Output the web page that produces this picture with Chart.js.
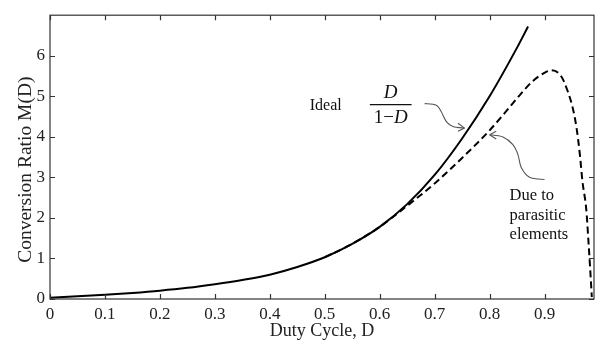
<!DOCTYPE html>
<html><head><meta charset="utf-8">
<script src="https://cdn.jsdelivr.net/npm/chart.js@4/dist/chart.umd.min.js"></script>
<style>html,body{margin:0;padding:0;background:#fff}#wrap{width:598px;height:340px}</style>
</head><body><div id="wrap"><canvas id="c" width="598" height="340"></canvas></div>
<script>
// ---- data ----
const dutyIdeal  = [0, 0.05, 0.1, 0.15, 0.2, 0.25, 0.3, 0.35, 0.4, 0.45, 0.5, 0.55, 0.6, 0.65, 0.7, 0.75, 0.8, 0.85, 0.87];
const ratioIdeal = [0.03, 0.065, 0.105, 0.15, 0.205, 0.275, 0.365, 0.47, 0.6, 0.79, 1.03, 1.36, 1.78, 2.34, 3.06, 3.96, 5.0, 6.2, 6.72];
const dutyParasitic  = [0.5, 0.55, 0.6, 0.65, 0.7, 0.75, 0.8, 0.827, 0.855, 0.879, 0.903, 0.912, 0.93, 0.942, 0.951, 0.958, 0.964, 0.969, 0.976, 0.98, 0.983, 0.986];
const ratioParasitic = [1.03, 1.36, 1.78, 2.3, 2.85, 3.48, 4.16, 4.58, 5.03, 5.38, 5.6, 5.64, 5.5, 5.13, 4.73, 4.24, 3.6, 2.9, 2.2, 1.4, 0.75, 0.05];
const xTickValues = [0, 0.1, 0.2, 0.3, 0.4, 0.5, 0.6, 0.7, 0.8, 0.9];
const yTickValues = [0, 1, 2, 3, 4, 5, 6];
const xTitle = 'Duty Cycle, D';
const yTitle = 'Conversion Ratio M(D)';
const xMin = 0, xMax = 0.99, yMin = 0, yMax = 7;

// annotation placement (data units)
const notes = {
  ideal: {x: 0.4727, y: 4.772, text: 'Ideal'},
  frac: {x: 0.62, yLine: 4.796, yNum: 5.09, yDen: 4.457, halfW: 0.038},
  idealArrow: [[0.6818,4.82],[0.7031,4.779],[0.7121,4.619],[0.7213,4.377],[0.7333,4.256],[0.7545,4.215]],
  idealHead: [[0.7424,4.336],[0.7424,4.135]],
  parArrow: [[0.9,2.948],[0.8727,3.003],[0.8576,3.246],[0.8515,3.568],[0.8424,3.81],[0.8242,3.997],[0.8,4.052]],
  parHead: [[0.8121,4.135],[0.8121,3.948]],
  parText: {x: 0.8364, lines: [['Due to',2.543],['parasitic',2.059],['elements',1.599]]},
  yTitle: {xPx: 25.5, y: 3.19}
};

const FONT = '"Liberation Serif", "Times New Roman", serif';
const pts = (xs, ys) => xs.map((x, i) => ({x, y: ys[i]}));

function smoothPath(ctx, p) {
  ctx.moveTo(p[0][0], p[0][1]);
  for (let i = 0; i < p.length - 1; i++) {
    const p0 = p[i-1] || p[i], p1 = p[i], p2 = p[i+1], p3 = p[i+2] || p2;
    const c1x = p1[0] + (p2[0]-p0[0])/6, c1y = p1[1] + (p2[1]-p0[1])/6;
    const c2x = p2[0] - (p3[0]-p1[0])/6, c2y = p2[1] - (p3[1]-p1[1])/6;
    ctx.bezierCurveTo(c1x, c1y, c2x, c2y, p2[0], p2[1]);
  }
}

const frame = {
  id: 'frame',
  afterDraw(chart) {
    const {ctx, chartArea: a, scales: {x, y}} = chart;
    ctx.save();
    ctx.strokeStyle = '#333';
    ctx.lineWidth = 1.2;
    ctx.strokeRect(a.left, a.top, a.right - a.left, a.bottom - a.top);
    const L = 5;
    ctx.beginPath();
    xTickValues.forEach(v => {
      const px = Math.round(x.getPixelForValue(v)) + 0.5;
      ctx.moveTo(px, a.bottom); ctx.lineTo(px, a.bottom - L);
      ctx.moveTo(px, a.top); ctx.lineTo(px, a.top + L);
    });
    yTickValues.forEach(v => {
      const py = Math.round(y.getPixelForValue(v)) + 0.5;
      ctx.moveTo(a.left, py); ctx.lineTo(a.left + L, py);
      ctx.moveTo(a.right, py); ctx.lineTo(a.right - L, py);
    });
    ctx.stroke();
    // y axis title
    ctx.translate(notes.yTitle.xPx, y.getPixelForValue(notes.yTitle.y));
    ctx.rotate(-Math.PI / 2);
    ctx.font = '19.5px ' + FONT;
    ctx.fillStyle = '#222';
    ctx.textAlign = 'center';
    ctx.textBaseline = 'middle';
    ctx.fillText(yTitle, 0, 0);
    ctx.restore();
  },
  afterDatasetsDraw(chart) {
    const {ctx, scales: {x, y}} = chart;
    const P = q => [x.getPixelForValue(q[0]), y.getPixelForValue(q[1])];
    ctx.save();
    ctx.fillStyle = '#111';
    ctx.textBaseline = 'middle';
    ctx.font = '16px ' + FONT;
    ctx.textAlign = 'left';
    ctx.fillText(notes.ideal.text, x.getPixelForValue(notes.ideal.x), y.getPixelForValue(notes.ideal.y));
    // fraction D / (1 - D)
    const fx = x.getPixelForValue(notes.frac.x);
    ctx.textAlign = 'center';
    ctx.font = 'italic 19px ' + FONT;
    ctx.fillText('D', fx, y.getPixelForValue(notes.frac.yNum));
    const ly = y.getPixelForValue(notes.frac.yLine);
    const hw = x.getPixelForValue(notes.frac.halfW) - x.getPixelForValue(0);
    ctx.strokeStyle = '#111'; ctx.lineWidth = 1.2;
    ctx.beginPath(); ctx.moveTo(fx - hw, ly); ctx.lineTo(fx + hw, ly); ctx.stroke();
    ctx.font = '19px ' + FONT;
    const a1 = '1\u2212';
    const w1 = ctx.measureText(a1).width;
    ctx.font = 'italic 19px ' + FONT;
    const w2 = ctx.measureText('D').width;
    const sx = fx - (w1 + w2) / 2, dy = y.getPixelForValue(notes.frac.yDen);
    ctx.textAlign = 'left';
    ctx.font = '19px ' + FONT;
    ctx.fillText(a1, sx, dy);
    ctx.font = 'italic 19px ' + FONT;
    ctx.fillText('D', sx + w1, dy);
    // arrows
    ctx.strokeStyle = '#555'; ctx.lineWidth = 1.1;
    [[notes.idealArrow, notes.idealHead, notes.idealArrow[notes.idealArrow.length-1]],
     [notes.parArrow, notes.parHead, notes.parArrow[notes.parArrow.length-1]]].forEach(([path, head, tip]) => {
      ctx.beginPath(); smoothPath(ctx, path.map(P)); ctx.stroke();
      const t = P(tip);
      ctx.beginPath();
      head.forEach(h => { const hp = P(h); ctx.moveTo(hp[0], hp[1]); ctx.lineTo(t[0], t[1]); });
      ctx.stroke();
    });
    // parasitic text
    ctx.font = '16.5px ' + FONT;
    ctx.textAlign = 'left';
    const tx = x.getPixelForValue(notes.parText.x);
    notes.parText.lines.forEach(([s, v]) => ctx.fillText(s, tx, y.getPixelForValue(v)));
    ctx.restore();
  }
};

new Chart(document.getElementById('c'), {
  type: 'line',
  data: {
    datasets: [
      {data: pts(dutyParasitic, ratioParasitic), borderColor: '#000', borderWidth: 2, borderDash: [7, 4],
       pointRadius: 0, cubicInterpolationMode: 'monotone', fill: false},
      {data: pts(dutyIdeal, ratioIdeal), borderColor: '#000', borderWidth: 2,
       pointRadius: 0, cubicInterpolationMode: 'monotone', fill: false}
    ]
  },
  options: {
    responsive: false, animation: false, devicePixelRatio: 1,
    layout: {padding: {top: 10, right: 4, left: 0, bottom: 0}},
    plugins: {legend: {display: false}, tooltip: {enabled: false}},
    scales: {
      x: {
        type: 'linear', min: xMin, max: xMax,
        afterBuildTicks: s => { s.ticks = xTickValues.map(v => ({value: v})); },
        afterFit: s => { s.height = 41; },
        grid: {display: false, drawTicks: false}, border: {display: false},
        ticks: {font: {family: FONT, size: 17}, color: '#222', padding: 5, maxRotation: 0, autoSkip: false,
                callback: v => String(v)},
        title: {display: true, text: xTitle, font: {family: FONT, size: 18, lineHeight: 1}, color: '#222',
                padding: {top: 0, bottom: 0}}
      },
      y: {
        type: 'linear', min: yMin, max: yMax,
        afterBuildTicks: s => { s.ticks = yTickValues.map(v => ({value: v})); },
        afterFit: s => { s.width = 50; },
        grid: {display: false, drawTicks: false}, border: {display: false},
        ticks: {font: {family: FONT, size: 17}, color: '#222', padding: 5, autoSkip: false,
                callback: v => String(v)},
        title: {display: false, text: yTitle}
      }
    }
  },
  plugins: [frame]
});
</script></body></html>
